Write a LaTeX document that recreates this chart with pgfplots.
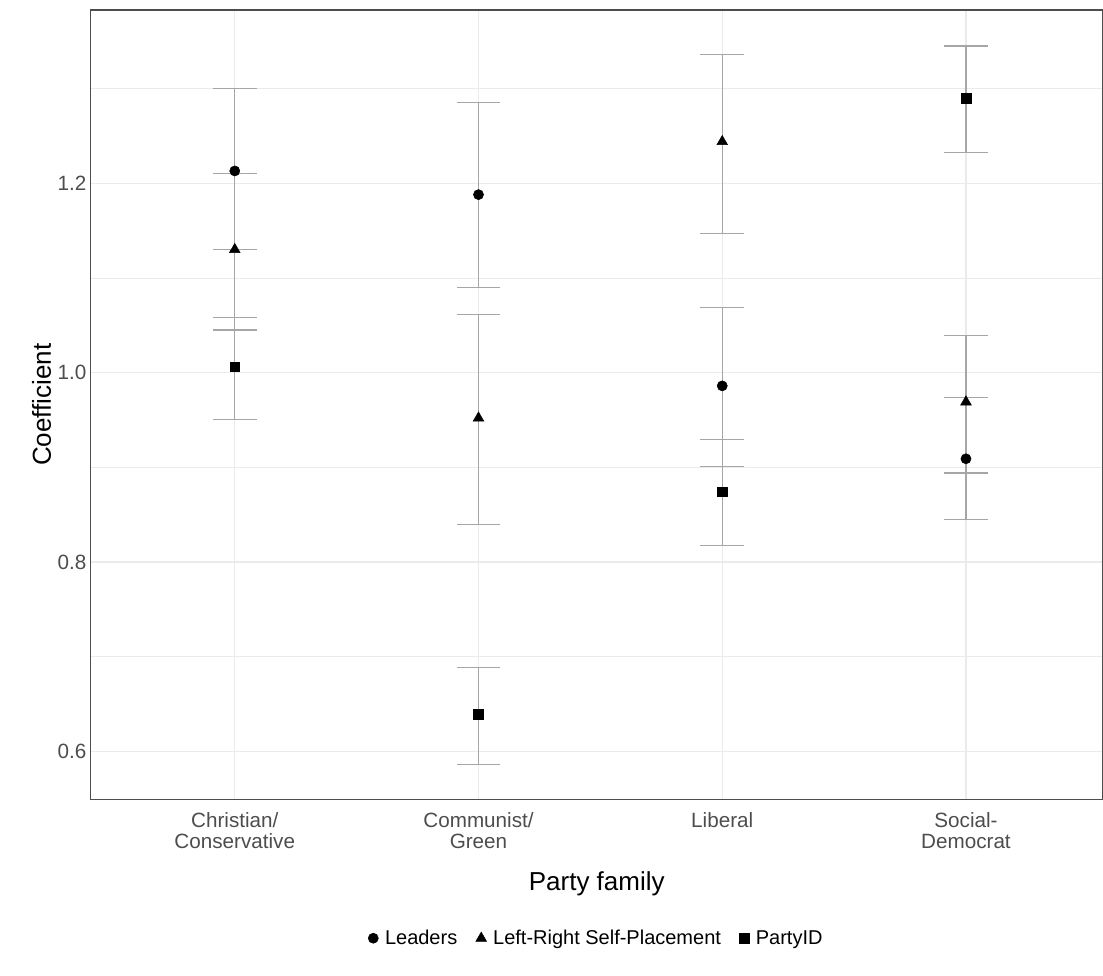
\documentclass[border=0pt]{standalone}
\usepackage{pgfplots}
\pgfplotsset{compat=1.18}
\usepackage{fontspec}
\setmainfont{Liberation Sans}
\definecolor{tk}{HTML}{4D4D4D}
\definecolor{gr}{HTML}{EBEBEB}
\begin{document}
\begin{tikzpicture}
\begin{axis}[name=ax,
 width=759pt, height=592.5pt, scale only axis,
 xmin=0.41, xmax=4.56, ymin=0.549, ymax=1.383,
 xtick={1,2,3,4},
 xticklabels={{Christian/\\Conservative},{Communist/\\Green},Liberal,{Social-\\Democrat}},
 xticklabel style={align=center, text=tk, font=\fontsize{15.5}{16}\selectfont, yshift=-6pt},
 ytick={0.6,0.8,1.0,1.2},
 yticklabels={0.6,0.8,1.0,1.2},
 yticklabel style={text=tk, font=\fontsize{15.5}{17}\selectfont},
 minor ytick={0.7,0.9,1.1,1.3},
 grid=both, major grid style={gr, line width=0.8pt}, minor grid style={gr, line width=0.5pt},
 tick style={draw=none},
 axis line style={draw=tk, line width=0.8pt},
 xlabel={Party family}, ylabel={Coefficient},
 label style={font=\fontsize{19.5}{21}\selectfont},
 xlabel style={yshift=-10pt},
 ylabel style={yshift=-2pt},
 legend columns=3,
 legend style={at={(0.5,-0.158)}, anchor=north, draw=none, font=\fontsize{15}{16}\selectfont,
   /tikz/every even column/.append style={column sep=12pt}},
 legend cell align=left,
 error bars/y dir=both, error bars/y explicit,
 error bars/error bar style={gray!70, line width=0.8pt},
 error bars/error mark options={gray!70, line width=0.8pt, mark size=16.5pt, rotate=90},
]
\addplot[only marks, mark=*, mark size=3.8pt, black] coordinates {
 (1,1.213) += (0,0.087) -= (0,0.083)
 (2,1.188) += (0,0.097) -= (0,0.098)
 (3,0.986) += (0,0.083) -= (0,0.085)
 (4,0.909) += (0,0.065) -= (0,0.064)
};
\addlegendentry{\hspace{3pt}Leaders}
\addplot[only marks, mark=triangle*, mark size=4.6pt, black] coordinates {
 (1,1.130) += (0,0.080) -= (0,0.085)
 (2,0.952) += (0,0.109) -= (0,0.112)
 (3,1.244) += (0,0.092) -= (0,0.097)
 (4,0.969) += (0,0.070) -= (0,0.075)
};
\addlegendentry{\hspace{3pt}Left-Right Self-Placement}
\addplot[only marks, mark=square*, mark size=3.6pt, black] coordinates {
 (1,1.006) += (0,0.052) -= (0,0.056)
 (2,0.639) += (0,0.050) -= (0,0.053)
 (3,0.874) += (0,0.055) -= (0,0.057)
 (4,1.290) += (0,0.055) -= (0,0.058)
};
\addlegendentry{\hspace{3pt}PartyID}
\end{axis}
\path (ax.south west) ++(-68.25pt,-132pt);
\path (ax.north east) ++(0,7.5pt);
\end{tikzpicture}
\end{document}
